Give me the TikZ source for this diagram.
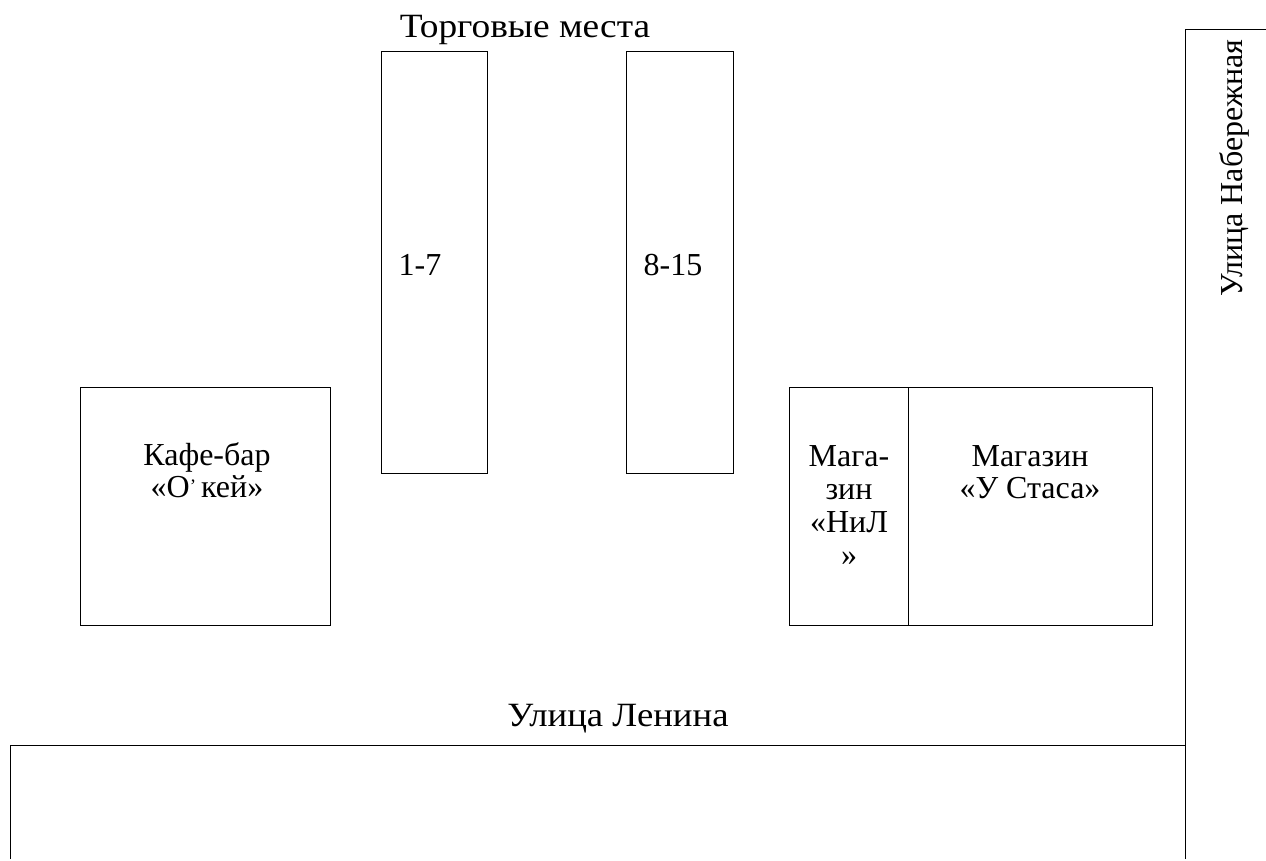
\documentclass[tikz,border=0pt]{standalone}
\usepackage{fontspec}
\setmainfont{Liberation Serif}
\newfontfamily\widefont[FakeStretch=1.1]{Liberation Serif}
\newfontfamily\midfont[FakeStretch=1.08]{Liberation Serif}
\begin{document}
\begin{tikzpicture}[x=1pt,y=-1pt,
  box/.style={draw=black, line width=1pt, inner sep=0pt, anchor=north west},
  lbl/.style={inner sep=0pt, anchor=base, font=\fontsize{32}{35}\selectfont, align=center},
  biglbl/.style={inner sep=0pt, anchor=base, align=center}]
\useasboundingbox (0,0) rectangle (1266,861);
% streets
\coordinate (lenA) at (10,859);
\coordinate (lenB) at (10,745);
\coordinate (lenC) at (1185,745);
\coordinate (nabA) at (1185,859);
\coordinate (nabB) at (1185,30);
\coordinate (nabC) at (1266,30);
\draw[line width=1pt] (lenA) -- (lenB) -- (lenC);
\draw[line width=1pt] (nabA) -- (nabB) -- (nabC);
% stalls
\node[box, minimum width=106pt, minimum height=422pt] (s1) at (381,51) {};
\node[box, minimum width=107pt, minimum height=422pt] (s2) at (626,51) {};
% cafe
\node[box, minimum width=250pt, minimum height=238pt] (cafe) at (80,387) {};
% shops
\node[box, minimum width=119pt, minimum height=238pt] (nil) at (789,387) {};
\node[box, minimum width=244pt, minimum height=238pt] (stas) at (908,387) {};
% labels
\node[biglbl, font=\widefont\fontsize{34}{36}\selectfont] (title) at (525,38) {Торговые места};
\node[lbl] (t17) at (420,275) {1-7};
\node[lbl] (t815) at (673,275) {8-15};
\node[lbl] (tcafe1) at (207,465) {Кафе-бар};
\node[lbl] (tcafe2) at (207,497) {«О{\fontsize{19}{19}\selectfont\raisebox{0.5ex}{’}}\hspace{5pt}кей»};
\node[lbl] (tnil1) at (849,466) {Мага-};
\node[lbl] (tnil2) at (849,499) {зин};
\node[lbl] (tnil3) at (849,532) {«НиЛ};
\node[lbl] (tnil4) at (849,565) {»};
\node[lbl] (tstas1) at (1030,466) {Магазин};
\node[lbl] (tstas2) at (1030,498) {«У Стаса»};
\node[biglbl, font=\midfont\fontsize{34}{36}\selectfont] (tlen) at (618,726) {Улица Ленина};
\node[lbl, rotate=90] (tnab) at (1242,168) {Улица Набережная};
\end{tikzpicture}
\end{document}
